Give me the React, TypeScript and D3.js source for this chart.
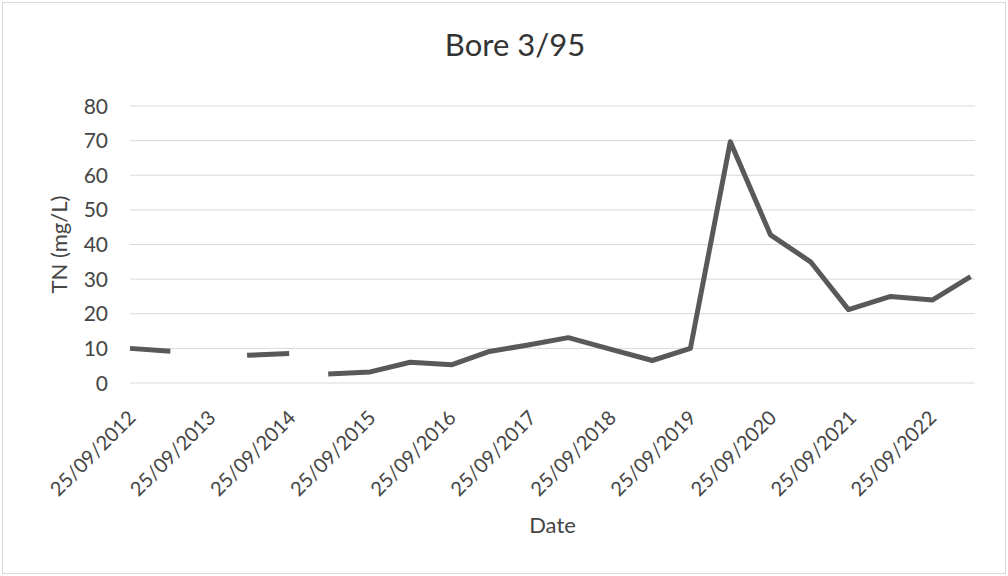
import * as d3 from "d3";
import React, { useEffect, useRef } from "react";

// sample dates (semi-annual) and TN readings; null = no sample, breaks the line
const sampleDates = [
  "2012-09-25", "2013-03-28", "2013-09-25", "2014-03-13", "2014-09-21",
  "2014-12-15", "2015-03-18", "2015-09-26", "2016-03-26", "2016-10-03",
  "2017-03-16", "2017-09-15", "2018-03-17", "2018-09-24", "2019-04-04",
  "2019-09-25", "2020-03-25", "2020-09-24", "2021-03-26", "2021-09-15",
  "2022-03-26", "2022-10-04", "2023-03-26",
];
const tnValues: (number | null)[] = [
  10, 9.2, null, 8.0, 8.5,
  null, 2.6, 3.2, 6.0, 5.3,
  9.0, 11, 13.1, 9.8, 6.5,
  10, 69.7, 42.8, 35, 21.2,
  25, 24, 30.7,
];
const yTicks = [0, 10, 20, 30, 40, 50, 60, 70, 80];
const tickYears = [2012, 2013, 2014, 2015, 2016, 2017, 2018, 2019, 2020, 2021, 2022];

const W = 1008;
const H = 576;
const FONT = "Lato, 'Noto Sans', sans-serif";
const TEXT = "#454545";

const App: React.FC = () => {
  const ref = useRef<SVGSVGElement>(null);

  useEffect(() => {
    if (!ref.current) return;
    const svg = d3.select(ref.current);
    svg.selectAll("*").remove();

    const left = 130;
    const right = 975;
    const top = 106;
    const bottom = 383;

    const parse = d3.timeParse("%Y-%m-%d");
    const data = sampleDates.map((s, i) => ({ date: parse(s)!, value: tnValues[i] }));

    const x = d3
      .scaleTime()
      .domain([parse("2012-09-25")!, parse("2023-04-15")!])
      .range([left, right]);
    const y = d3.scaleLinear().domain([0, 80]).range([bottom, top]);

    // outer chart border
    svg
      .append("rect")
      .attr("x", 2.5)
      .attr("y", 2.5)
      .attr("width", W - 5)
      .attr("height", H - 5)
      .attr("fill", "#fff")
      .attr("stroke", "#d9d9d9");

    // gridlines
    svg
      .append("g")
      .selectAll("line")
      .data(yTicks)
      .enter()
      .append("line")
      .attr("x1", left)
      .attr("x2", right)
      .attr("y1", (d) => y(d))
      .attr("y2", (d) => y(d))
      .attr("stroke", "#d9d9d9")
      .attr("stroke-width", 1);

    // y tick labels
    svg
      .append("g")
      .selectAll("text")
      .data(yTicks)
      .enter()
      .append("text")
      .attr("x", 108)
      .attr("y", (d) => y(d))
      .attr("dy", "0.36em")
      .attr("text-anchor", "end")
      .attr("font-family", FONT)
      .attr("font-size", 21)
      .attr("fill", TEXT)
      .text((d) => d);

    // x tick labels, rotated
    const fmt = d3.timeFormat("%d/%m/%Y");
    svg
      .append("g")
      .selectAll("text")
      .data(tickYears.map((yr) => parse(`${yr}-09-25`)!))
      .enter()
      .append("text")
      .attr("transform", (d) => `translate(${x(d) + 7},${bottom + 36}) rotate(-45)`)
      .attr("text-anchor", "end")
      .attr("font-family", FONT)
      .attr("font-size", 20)
      .attr("fill", TEXT)
      .text((d) => fmt(d));

    // the series
    const line = d3
      .line<{ date: Date; value: number | null }>()
      .defined((d) => d.value !== null)
      .x((d) => x(d.date))
      .y((d) => y(d.value as number));

    svg
      .append("path")
      .datum(data)
      .attr("d", line)
      .attr("fill", "none")
      .attr("stroke", "#595959")
      .attr("stroke-width", 5)
      .attr("stroke-linejoin", "round");

    // title
    svg
      .append("text")
      .attr("x", 515)
      .attr("y", 56)
      .attr("text-anchor", "middle")
      .attr("font-family", FONT)
      .attr("font-size", 31)
      .attr("fill", "#333")
      .text("Bore 3/95");

    // axis titles
    svg
      .append("text")
      .attr("transform", `translate(67,${(top + bottom) / 2}) rotate(-90)`)
      .attr("text-anchor", "middle")
      .attr("font-family", FONT)
      .attr("font-size", 22)
      .attr("fill", TEXT)
      .text("TN (mg/L)");

    svg
      .append("text")
      .attr("x", (left + right) / 2)
      .attr("y", 533)
      .attr("text-anchor", "middle")
      .attr("font-family", FONT)
      .attr("font-size", 22)
      .attr("fill", TEXT)
      .text("Date");
  }, []);

  return (
    <svg
      ref={ref}
      width={W}
      height={H}
      style={{ position: "absolute", left: 0, top: 0, background: "#fff" }}
    ></svg>
  );
};

export default App;
